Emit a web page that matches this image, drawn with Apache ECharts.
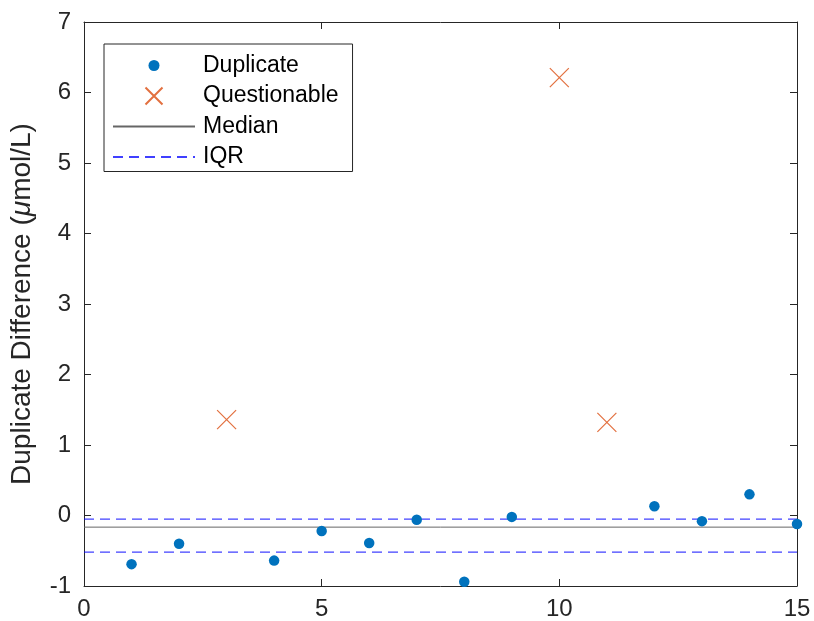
<!DOCTYPE html>
<html>
<head>
<meta charset="utf-8">
<script src="https://cdn.jsdelivr.net/npm/echarts@6/dist/echarts.min.js"></script>
<style>
  html, body { margin: 0; padding: 0; background: #fff; }
  #chart { width: 814px; height: 621px; }
</style>
</head>
<body>
<div id="chart"></div>
<script>
// values
const duplicateX = [1, 2, 4, 5, 6, 7, 8, 9, 12, 13, 14, 15]
const duplicateY = [-0.69, -0.40, -0.64, -0.22, -0.39, -0.06, -0.94, -0.02, 0.13, -0.08, 0.30, -0.12]
const questionableX = [3, 10, 11]
const questionableY = [1.36, 6.21, 1.32]
const medianValue = -0.165
const iqrValues = [-0.52, -0.05]
const xRange = [0, 15]
const yRange = [-1, 7]

const axisColor = '#262626'
const font = 'Liberation Sans, Arial, Helvetica, sans-serif'

const chart = echarts.init(document.getElementById('chart'))

const iqrData = []
iqrValues.forEach((v, i) => {
  if (i > 0) iqrData.push(['-', '-'])
  iqrData.push([xRange[0], v], [xRange[1], v])
})

const boxAxis = {
  axisLine: { show: true, onZero: false, lineStyle: { color: axisColor, width: 1 } },
  axisTick: { show: true, inside: true, length: 7, lineStyle: { color: axisColor } },
  splitLine: { show: false },
}

chart.setOption({
  animation: false,
  textStyle: { fontFamily: font },
  grid: { left: 83, right: 17, top: 22, bottom: 34 },
  legend: {
    left: 104, top: 44,
    orient: 'vertical',
    backgroundColor: '#fff',
    borderColor: axisColor, borderWidth: 1,
    padding: [10, 14, 3, 8],
    itemWidth: 82, itemHeight: 17, itemGap: 7.5,
    textStyle: { fontSize: 23, color: '#000', fontFamily: font, padding: [0, 0, 0, 3] },
    data: [
      { name: 'Duplicate', icon: 'path://M0,0M17,17M14,8.5A5.5,5.5,0,1,1,3,8.5A5.5,5.5,0,1,1,14,8.5Z' },
      { name: 'Questionable', icon: 'path://M0,0L17,17M17,0L0,17' },
      { name: 'Median', itemStyle: { opacity: 0 } },
      { name: 'IQR', itemStyle: { opacity: 0 } },
    ],
  },
  xAxis: [
    { ...boxAxis, type: 'value', min: xRange[0], max: xRange[1], interval: 5,
      axisLabel: { fontSize: 24, color: axisColor, margin: 11 } },
    { ...boxAxis, type: 'value', position: 'top', min: xRange[0], max: xRange[1], interval: 5,
      axisLabel: { show: false } },
  ],
  yAxis: [
    { ...boxAxis, type: 'value', min: yRange[0], max: yRange[1], interval: 1,
      axisLabel: { fontSize: 24, color: axisColor, margin: 13 },
      name: '{n|Duplicate Difference (}{i|μ}{n|mol/L)}',
      nameLocation: 'middle', nameGap: 48, nameRotate: 90,
      nameTextStyle: {
        rich: {
          n: { fontSize: 28, color: axisColor, fontFamily: font },
          i: { fontSize: 28, color: axisColor, fontStyle: 'italic', fontFamily: font },
        },
      } },
    { ...boxAxis, type: 'value', position: 'right', min: yRange[0], max: yRange[1], interval: 1,
      axisLabel: { show: false } },
  ],
  series: [
    {
      name: 'Duplicate', type: 'scatter',
      symbol: 'circle', symbolSize: 10.5,
      itemStyle: { color: '#0072BD', opacity: 1 },
      data: duplicateX.map((x, i) => [x, duplicateY[i]]),
      z: 5,
    },
    {
      name: 'Questionable', type: 'scatter',
      symbol: 'path://M0,0L10,10M10,0L0,10', symbolSize: 19,
      itemStyle: { color: 'transparent', borderColor: '#E2703F', borderWidth: 1.2, opacity: 1 },
      data: questionableX.map((x, i) => [x, questionableY[i]]),
      z: 5,
    },
    {
      name: 'Median', type: 'line', symbol: 'none',
      lineStyle: { color: '#666', width: 1 },
      itemStyle: { color: '#666' },
      data: [[xRange[0], medianValue], [xRange[1], medianValue]],
    },
    {
      name: 'IQR', type: 'line', symbol: 'none',
      lineStyle: { color: 'rgba(0,0,255,0.75)', width: 1.2, type: [10, 6] },
      itemStyle: { color: 'rgba(0,0,255,0.75)' },
      data: iqrData,
    },
  ],
})
</script>
</body>
</html>
